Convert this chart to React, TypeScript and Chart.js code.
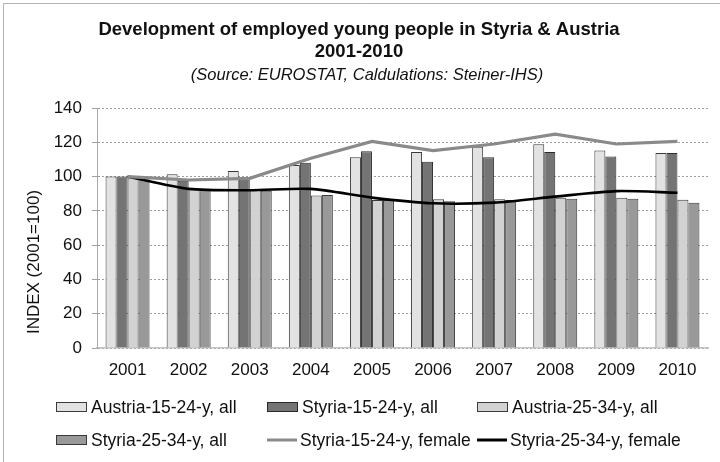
import React, { useEffect, useRef } from "react";
import { Chart, registerables } from "chart.js";

Chart.register(...registerables);

const years = ["2001", "2002", "2003", "2004", "2005", "2006", "2007", "2008", "2009", "2010"];
const austria1524All = [100, 101.4, 103.2, 106.7, 111.3, 114.3, 117.4, 118.9, 115.2, 113.7];
const styria1524All = [100, 97.5, 98.7, 108, 114.8, 108.6, 111.3, 114.3, 111.7, 113.7];
const austria2534All = [99, 92.8, 92.2, 88.9, 86.4, 86.8, 86.8, 87.7, 87.7, 86.5];
const styria2534All = [99, 92.8, 91.8, 89.3, 86.4, 85.6, 86.4, 87.1, 87.0, 84.8];
const styria1524Female = [100, 98, 99, 110.7, 120.5, 115.2, 119, 124.8, 119, 120.5];
const styria2534Female = [100, 92.8, 92, 92.8, 87.7, 84.4, 84.8, 88.3, 91.5, 90.6];
const yTicks = [0, 20, 40, 60, 80, 100, 120, 140];

const titleLines = ["Development of employed young people in Styria & Austria", "2001-2010"];
const subtitleText = "(Source: EUROSTAT, Caldulations: Steiner-IHS)";
const yTitle = "INDEX (2001=100)";

const FONT = "'Liberation Sans', Arial, sans-serif";

const seriesStyle = [
  { label: "Austria-15-24-y, all", kind: "bar", fill: "#e2e2e2", stroke: "#3a3a3a" },
  { label: "Styria-15-24-y, all", kind: "bar", fill: "#747474", stroke: "#2a2a2a" },
  { label: "Austria-25-34-y, all", kind: "bar", fill: "#d2d2d2", stroke: "#3a3a3a" },
  { label: "Styria-25-34-y, all", kind: "bar", fill: "#999999", stroke: "#3a3a3a" },
  { label: "Styria-15-24-y, female", kind: "line", fill: "#8a8a8a", stroke: "#8a8a8a" },
  { label: "Styria-25-34-y, female", kind: "line", fill: "#000000", stroke: "#000000" },
];

const decorPlugin = {
  id: "decor",
  afterDraw(chart: any) {
    const ctx = chart.ctx as CanvasRenderingContext2D;
    ctx.save();
    ctx.strokeStyle = "#b4b4b4";
    ctx.lineWidth = 1;
    ctx.beginPath();
    ctx.moveTo(3.5, 462);
    ctx.lineTo(3.5, 3.5);
    ctx.lineTo(720, 3.5);
    ctx.stroke();

    ctx.fillStyle = "#111111";
    ctx.textAlign = "center";
    ctx.textBaseline = "middle";
    ctx.font = `bold 18.5px ${FONT}`;
    ctx.fillText(titleLines[0], 359, 30);
    ctx.fillText(titleLines[1], 359, 52);
    ctx.font = `italic 16.5px ${FONT}`;
    ctx.fillText(subtitleText, 367, 75);

    ctx.save();
    ctx.translate(34, 262);
    ctx.rotate(-Math.PI / 2);
    ctx.font = `17px ${FONT}`;
    ctx.fillText(yTitle, 0, 0);
    ctx.restore();

    const cols = [56, 267, 477];
    const rows = [407, 440];
    ctx.font = `17.5px ${FONT}`;
    ctx.textAlign = "left";
    seriesStyle.forEach((s, i) => {
      const x = cols[i % 3];
      const y = rows[Math.floor(i / 3)];
      if (s.kind === "bar") {
        ctx.fillStyle = s.fill;
        ctx.fillRect(x + 0.5, y - 4.5, 30, 9);
        ctx.strokeStyle = s.stroke;
        ctx.lineWidth = 1;
        ctx.strokeRect(x + 0.5, y - 4.5, 30, 9);
        ctx.fillStyle = "#111111";
        ctx.fillText(s.label, x + 35, y + 1);
      } else {
        ctx.strokeStyle = s.stroke;
        ctx.lineWidth = 3;
        ctx.beginPath();
        ctx.moveTo(x, y);
        ctx.lineTo(x + 30, y);
        ctx.stroke();
        ctx.fillStyle = "#111111";
        ctx.fillText(s.label, x + 33, y + 1);
      }
    });
    ctx.restore();
  },
};

export default function App() {
  const ref = useRef<HTMLCanvasElement | null>(null);

  useEffect(() => {
    document.body.style.margin = "0";
    const canvas = ref.current;
    if (!canvas) return;
    const barData = [austria1524All, styria1524All, austria2534All, styria2534All];
    const lineData = [styria1524Female, styria2534Female];
    const datasets: any[] = [];
    barData.forEach((d, i) => {
      const s = seriesStyle[i];
      datasets.push({
        type: "bar",
        label: s.label,
        data: d,
        backgroundColor: s.fill,
        borderColor: s.stroke,
        borderWidth: 1,
        categoryPercentage: 0.72,
        barPercentage: 1.0,
        order: 2,
      });
    });
    lineData.forEach((d, i) => {
      const s = seriesStyle[4 + i];
      datasets.push({
        type: "line",
        label: s.label,
        data: d,
        borderColor: s.stroke,
        backgroundColor: s.stroke,
        borderWidth: i === 0 ? 3.2 : 2.6,
        pointRadius: 0,
        tension: i === 0 ? 0 : 0.25,
        fill: false,
        order: 1,
      });
    });

    const chart = new Chart(canvas, {
      type: "bar",
      data: { labels: years, datasets },
      options: {
        responsive: false,
        animation: false,
        layout: { padding: { left: 0, right: 12, top: 108, bottom: 74 } },
        plugins: {
          legend: { display: false },
          title: { display: false },
          tooltip: { enabled: false },
        },
        scales: {
          x: {
            offset: true,
            grid: { display: false, drawTicks: false },
            border: { display: true, color: "#c4c4c4", width: 1.5 },
            ticks: {
              color: "#111111",
              font: { family: FONT, size: 17 },
              padding: 12,
              maxRotation: 0,
            },
            afterFit: (scale: any) => {
              scale.height = 40;
            },
          },
          y: {
            min: 0,
            max: 140,
            afterBuildTicks: (scale: any) => {
              scale.ticks = yTicks.map((v) => ({ value: v }));
            },
            grid: {
              color: "#9c9c9c",
              lineWidth: 1,
              drawTicks: true,
              tickLength: 5,
              tickColor: "#a0a0a0",
            },
            border: { display: true, color: "#a8a8a8", width: 1, dash: [2, 2] },
            ticks: {
              color: "#111111",
              font: { family: FONT, size: 17 },
              padding: 10,
            },
            afterFit: (scale: any) => {
              scale.width = 97;
            },
          },
        },
      },
      plugins: [decorPlugin],
    });
    return () => chart.destroy();
  }, []);

  return <canvas ref={ref} width={720} height={462} style={{ display: "block", width: 720, height: 462 }} />;
}
